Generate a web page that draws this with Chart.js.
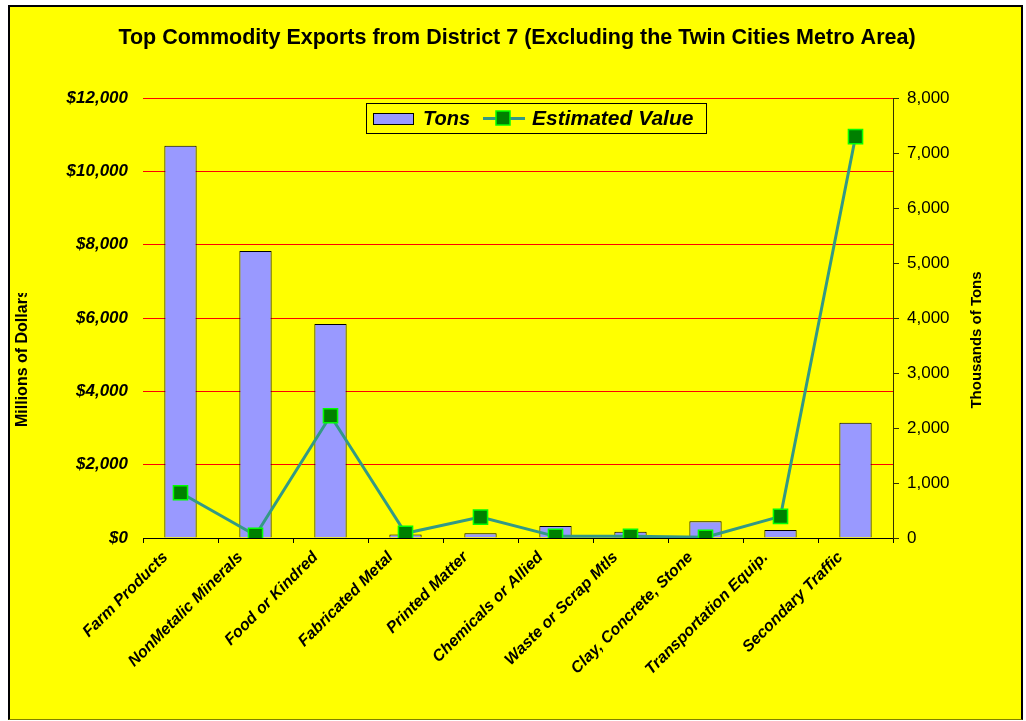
<!DOCTYPE html>
<html>
<head>
<meta charset="utf-8">
<script src="https://cdn.jsdelivr.net/npm/chart.js@4/dist/chart.umd.min.js"></script>
<style>
    html, body { margin: 0; padding: 0; background: #fff; }
    #frame {
        position: absolute;
        left: 8px;
        top: 5px;
        width: 1011px;
        height: 712px;
        border: 2px solid #000;
        border-bottom: 1px solid #808000;
        background: #ffff00;
    }
    #exportChart { display: block; }
</style>
</head>
<body>
<div id="frame">
    <canvas id="exportChart" width="1011" height="712"></canvas>
</div>
<script>
    // commodity groups shipped out of the district
    const commodities = [
        'Farm Products',
        'NonMetalic Minerals',
        'Food or Kindred',
        'Fabricated Metal',
        'Printed Matter',
        'Chemicals or Allied',
        'Waste or Scrap Mtls',
        'Clay, Concrete, Stone',
        'Transportation Equip.',
        'Secondary Traffic'
    ];

    // thousands of tons (right axis)
    const tons = [7130, 5220, 3890, 65, 85, 220, 115, 305, 145, 2095];

    // millions of dollars (left axis)
    const estimatedValue = [1235, 75, 3335, 130, 570, 45, 45, 20, 590, 10945];

    const dollarTicks = { min: 0, max: 12000, step: 2000 };
    const tonTicks = { min: 0, max: 8000, step: 1000 };

    const barFill = '#9999ff';
    const lineColor = '#339985';
    const markerFill = '#008000';
    const markerEdge = '#00ff00';

    // titles and the boxed legend sit on the canvas by hand
    const decorations = {
        id: 'decorations',
        afterDraw(chart) {
            const ctx = chart.ctx;
            ctx.save();
            ctx.fillStyle = '#000';

            ctx.font = 'bold 21.5px "Liberation Sans", Arial, sans-serif';
            ctx.textAlign = 'center';
            ctx.textBaseline = 'middle';
            ctx.fillText('Top Commodity Exports from District 7 (Excluding the Twin Cities Metro Area)', 507, 31);

            // left axis title, cut off at the top
            ctx.save();
            ctx.beginPath();
            ctx.rect(0, 286, 60, 200);
            ctx.clip();
            ctx.translate(13, 420);
            ctx.rotate(-Math.PI / 2);
            ctx.font = 'bold 16px "Liberation Sans", Arial, sans-serif';
            ctx.textAlign = 'left';
            ctx.fillText('Millions of Dollars', 0, 0);
            ctx.restore();

            // right axis title
            ctx.save();
            ctx.translate(967, 333);
            ctx.rotate(-Math.PI / 2);
            ctx.font = 'bold 15px "Liberation Sans", Arial, sans-serif';
            ctx.textAlign = 'center';
            ctx.fillText('Thousands of Tons', 0, 0);
            ctx.restore();

            // legend
            ctx.fillStyle = '#ffff00';
            ctx.fillRect(356, 96, 340, 30);
            ctx.strokeStyle = '#000';
            ctx.lineWidth = 1;
            ctx.strokeRect(356.5, 96.5, 340, 30);

            ctx.fillStyle = barFill;
            ctx.fillRect(363, 106, 41, 12);
            ctx.strokeRect(363.5, 106.5, 40, 11);

            ctx.strokeStyle = lineColor;
            ctx.lineWidth = 3;
            ctx.beginPath();
            ctx.moveTo(473, 111.5);
            ctx.lineTo(515, 111.5);
            ctx.stroke();
            ctx.fillStyle = markerFill;
            ctx.fillRect(486, 104, 14, 14);
            ctx.strokeStyle = markerEdge;
            ctx.lineWidth = 1.5;
            ctx.strokeRect(486, 104, 14, 14);

            ctx.fillStyle = '#000';
            ctx.font = 'italic bold 20px "Liberation Sans", Arial, sans-serif';
            ctx.textAlign = 'left';
            ctx.fillText('Tons', 413, 112);
            ctx.font = 'italic bold 21px "Liberation Sans", Arial, sans-serif';
            ctx.fillText('Estimated Value', 522, 112);
            ctx.restore();
        }
    };

    const config = {
        data: {
            labels: commodities,
            datasets: [{
                type: 'line',
                label: 'Estimated Value',
                data: estimatedValue,
                yAxisID: 'y',
                order: 0,
                borderColor: lineColor,
                borderWidth: 3,
                pointStyle: 'rect',
                pointRadius: 10,
                pointBackgroundColor: markerFill,
                pointBorderColor: markerEdge,
                pointBorderWidth: 1.5,
                tension: 0
            }, {
                type: 'bar',
                label: 'Tons',
                data: tons,
                yAxisID: 'y1',
                order: 1,
                backgroundColor: barFill,
                borderColor: '#000',
                borderWidth: 1,
                categoryPercentage: 1,
                barPercentage: 0.43
            }]
        },
        options: {
            responsive: false,
            animation: false,
            devicePixelRatio: 1,
            layout: { padding: { top: 91, left: 0, right: 0, bottom: 0 } },
            plugins: {
                legend: { display: false },
                title: { display: false },
                tooltip: { enabled: false }
            },
            scales: {
                x: {
                    offset: true,
                    afterFit(scale) { scale.height = 181; },
                    border: { display: true, color: '#000', width: 1 },
                    grid: {
                        offset: true,
                        drawOnChartArea: false,
                        drawTicks: true,
                        tickLength: 5,
                        color: '#000'
                    },
                    ticks: {
                        minRotation: 45,
                        maxRotation: 45,
                        autoSkip: false,
                        padding: 5,
                        labelOffset: -15,
                        color: '#000',
                        font: { family: '"Liberation Sans", Arial, sans-serif', size: 16, weight: 'bold', style: 'italic' }
                    }
                },
                y: {
                    position: 'left',
                    min: dollarTicks.min,
                    max: dollarTicks.max,
                    afterFit(scale) { scale.width = 133; },
                    border: { display: false },
                    grid: { color: '#ff0000', lineWidth: 1, drawTicks: false },
                    ticks: {
                        stepSize: dollarTicks.step,
                        padding: 15,
                        color: '#000',
                        font: { family: '"Liberation Sans", Arial, sans-serif', size: 17, weight: 'bold', style: 'italic' },
                        callback: function (value) {
                            return '$' + value.toLocaleString('en-US');
                        }
                    }
                },
                y1: {
                    position: 'right',
                    min: tonTicks.min,
                    max: tonTicks.max,
                    afterFit(scale) { scale.width = 128; },
                    border: { display: true, color: '#333300', width: 1 },
                    grid: { drawOnChartArea: false, drawTicks: true, tickLength: 6, color: '#333300' },
                    ticks: {
                        stepSize: tonTicks.step,
                        padding: 8,
                        color: '#000',
                        font: { family: '"Liberation Sans", Arial, sans-serif', size: 17 },
                        callback: function (value) {
                            return value.toLocaleString('en-US');
                        }
                    }
                }
            }
        },
        plugins: [decorations]
    };

    const chartCanvas = document.getElementById('exportChart');
    const exportChart = new Chart(chartCanvas, config);
</script>
</body>
</html>
